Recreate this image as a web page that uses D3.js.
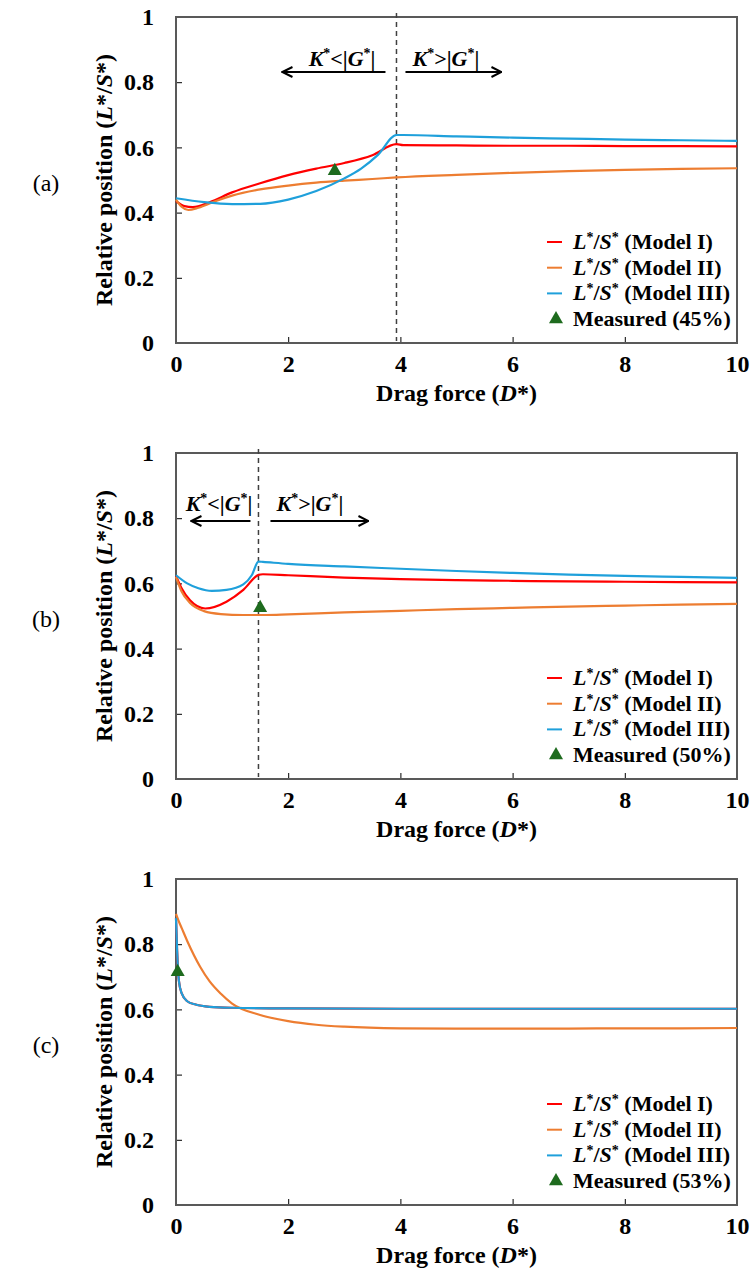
<!DOCTYPE html>
<html>
<head>
<meta charset="utf-8">
<script src="https://cdn.jsdelivr.net/npm/d3@7"></script>
<style>
  body { margin: 0; background: #fff; }
  text { font-family: "Liberation Serif", "Times New Roman", serif; }
</style>
</head>
<body>
<svg id="chart" width="753" height="1285"></svg>
<script>
// tick labels
const xTicks = [0, 2, 4, 6, 8, 10];
const yTicks = [0, 0.2, 0.4, 0.6, 0.8, 1];
const panelLabels = ["(a)", "(b)", "(c)"];
const measuredLabels = ["Measured (45%)", "Measured (50%)", "Measured (53%)"];
const modelNames = ["Model I", "Model II", "Model III"];

// panel (a)
const aRedD = [0, 0.15, 0.3, 0.6, 1, 1.5, 2, 2.5, 3, 3.5, 3.93, 4.05, 5, 6, 7, 8, 9, 10];
const aRedV = [0.435, 0.42, 0.417, 0.432, 0.462, 0.49, 0.515, 0.535, 0.552, 0.576, 0.61, 0.607, 0.606, 0.605, 0.605, 0.604, 0.604, 0.603];
const aOrangeD = [0, 0.1, 0.22, 0.4, 0.7, 1, 1.5, 2, 2.5, 3, 3.5, 3.93, 5, 6, 7, 8, 9, 10];
const aOrangeV = [0.44, 0.418, 0.408, 0.415, 0.435, 0.452, 0.471, 0.483, 0.492, 0.498, 0.503, 0.508, 0.516, 0.522, 0.527, 0.531, 0.534, 0.536];
const aBlueD = [0, 0.5, 1, 1.5, 2, 2.5, 3, 3.3, 3.6, 3.93, 4.05, 5, 6, 7, 8, 9, 10];
const aBlueV = [0.444, 0.432, 0.426, 0.427, 0.44, 0.466, 0.505, 0.535, 0.577, 0.638, 0.638, 0.634, 0.63, 0.627, 0.624, 0.622, 0.62];
const aMeasured = [2.83, 0.528];
const aSplit = 3.93;

// panel (b)
const bRedD = [0, 0.1, 0.25, 0.52, 0.9, 1.2, 1.47, 1.55, 2, 3, 4, 5, 6, 7, 8, 9, 10];
const bRedV = [0.623, 0.585, 0.548, 0.523, 0.544, 0.58, 0.626, 0.628, 0.625, 0.618, 0.613, 0.61, 0.608, 0.606, 0.605, 0.604, 0.603];
const bOrangeD = [0, 0.1, 0.25, 0.5, 0.8, 1.2, 1.6, 2, 3, 4, 5, 6, 7, 8, 9, 10];
const bOrangeV = [0.62, 0.575, 0.54, 0.515, 0.506, 0.503, 0.503, 0.505, 0.511, 0.516, 0.521, 0.525, 0.529, 0.532, 0.535, 0.537];
const bBlueD = [0, 0.2, 0.4, 0.64, 0.9, 1.2, 1.35, 1.47, 1.55, 2, 3, 4, 5, 6, 7, 8, 9, 10];
const bBlueV = [0.625, 0.6, 0.585, 0.577, 0.58, 0.597, 0.625, 0.667, 0.666, 0.66, 0.652, 0.645, 0.638, 0.632, 0.627, 0.623, 0.62, 0.617];
const bMeasured = [1.5, 0.525];
const bSplit = 1.47;

// panel (c)
const cBlueD = [0, 0.02, 0.05, 0.1, 0.2, 0.35, 0.6, 1, 2, 4, 6, 8, 10];
const cBlueV = [0.88, 0.78, 0.69, 0.65, 0.625, 0.615, 0.608, 0.605, 0.603, 0.602, 0.602, 0.602, 0.602];
const cRedD = cBlueD;
const cRedV = cBlueV;
const cOrangeD = [0, 0.05, 0.1, 0.2, 0.43, 0.6, 0.8, 1, 1.5, 2, 2.5, 3, 4, 5, 6, 7, 8, 9, 10];
const cOrangeV = [0.893, 0.87, 0.85, 0.81, 0.731, 0.686, 0.648, 0.618, 0.583, 0.564, 0.553, 0.547, 0.542, 0.541, 0.541, 0.541, 0.542, 0.542, 0.543];
const cMeasured = [0.03, 0.715];

const colors = { red: "#FF0000", orange: "#ED7D31", blue: "#1FA0DB", green: "#1E6B1E" };

const zip = (xs, ys) => xs.map((x, i) => [x, ys[i]]);

// annotation layout: [left text end, left arrow start, left arrow end, right arrow start, right arrow end, right text start]
const panels = [
  { top: 17, label: panelLabels[0], measured: aMeasured, measuredLabel: measuredLabels[0], split: aSplit,
    arrowY: 55, textY: 49, note: [-21, -11, -114, 9, 105, 16],
    series: [zip(aRedD, aRedV), zip(aOrangeD, aOrangeV), zip(aBlueD, aBlueV)] },
  { top: 453, label: panelLabels[1], measured: bMeasured, measuredLabel: measuredLabels[1], split: bSplit,
    arrowY: 68, textY: 58, note: [-6, -8, -67, 12, 110, 18],
    series: [zip(bRedD, bRedV), zip(bOrangeD, bOrangeV), zip(bBlueD, bBlueV)] },
  { top: 879, label: panelLabels[2], measured: cMeasured, measuredLabel: measuredLabels[2], split: null,
    series: [zip(cRedD, cRedV), zip(cOrangeD, cOrangeV), zip(cBlueD, cBlueV)] }
];
const seriesColors = [colors.red, colors.orange, colors.blue];

const left = 176, width = 561, height = 326;
const svg = d3.select("#chart");

// arrow head
svg.append("defs").append("marker")
  .attr("id", "head")
  .attr("viewBox", "0 0 12 12")
  .attr("refX", 11).attr("refY", 6)
  .attr("markerWidth", 12).attr("markerHeight", 12)
  .attr("markerUnits", "userSpaceOnUse")
  .attr("orient", "auto")
  .append("path")
  .attr("d", "M1,1 L11,6 L1,11")
  .attr("fill", "none").attr("stroke", "#000").attr("stroke-width", 2);

const x = d3.scaleLinear().domain([0, 10]).range([0, width]);
const y = d3.scaleLinear().domain([0, 1]).range([height, 0]);
const triangle = d3.symbol().type(d3.symbolTriangle).size(85);

// K*<|G*| style label
function kgLabel(sel, op) {
  sel.append("tspan").attr("font-style", "italic").text("K");
  sel.append("tspan").attr("font-size", 14).attr("dy", -8).text("*");
  sel.append("tspan").attr("dy", 8).text(op + "|");
  sel.append("tspan").attr("font-style", "italic").text("G");
  sel.append("tspan").attr("font-size", 14).attr("dy", -8).text("*");
  sel.append("tspan").attr("dy", 8).text("|");
}

panels.forEach(p => {
  const g = svg.append("g").attr("transform", `translate(${left},${p.top})`);

  // axes, ticks pointing inward
  g.append("g")
    .attr("transform", `translate(0,${height})`)
    .call(d3.axisBottom(x).tickValues(xTicks).tickSizeInner(-6).tickSizeOuter(0).tickPadding(12))
    .call(a => a.select(".domain").remove())
    .call(a => a.selectAll("text").attr("font-size", 24).attr("font-weight", "bold").attr("fill", "#000")
      .style("font-family", "Liberation Serif"));
  g.append("g")
    .call(d3.axisLeft(y).tickValues(yTicks).tickFormat(d3.format("")).tickSizeInner(-6).tickSizeOuter(0).tickPadding(22))
    .call(a => a.select(".domain").remove())
    .call(a => a.selectAll("text").attr("font-size", 24).attr("font-weight", "bold").attr("fill", "#000")
      .style("font-family", "Liberation Serif"));

  g.append("rect")
    .attr("width", width).attr("height", height)
    .attr("fill", "none").attr("stroke", "#595959").attr("stroke-width", 2);

  // split line and annotations
  if (p.split !== null) {
    const sx = x(p.split);
    const n = p.note;
    g.append("line")
      .attr("x1", sx).attr("x2", sx).attr("y1", -4).attr("y2", height - 2)
      .attr("stroke", "#404040").attr("stroke-width", 1.5).attr("stroke-dasharray", "5,4");
    g.append("line")
      .attr("x1", sx + n[1]).attr("x2", sx + n[2])
      .attr("y1", p.arrowY).attr("y2", p.arrowY)
      .attr("stroke", "#000").attr("stroke-width", 2).attr("marker-end", "url(#head)");
    g.append("line")
      .attr("x1", sx + n[3]).attr("x2", sx + n[4])
      .attr("y1", p.arrowY).attr("y2", p.arrowY)
      .attr("stroke", "#000").attr("stroke-width", 2).attr("marker-end", "url(#head)");
    g.append("text")
      .attr("x", sx + n[0]).attr("y", p.textY)
      .attr("text-anchor", "end").attr("font-size", 22).attr("font-weight", "bold")
      .call(kgLabel, "<");
    g.append("text")
      .attr("x", sx + n[5]).attr("y", p.textY)
      .attr("font-size", 22).attr("font-weight", "bold")
      .call(kgLabel, ">");
  }

  const line = d3.line()
    .x(d => x(d[0]))
    .y(d => y(d[1]))
    .curve(d3.curveMonotoneX);

  p.series.forEach((s, i) => {
    g.append("path")
      .datum(s)
      .attr("fill", "none")
      .attr("stroke", seriesColors[i])
      .attr("stroke-width", 2.2)
      .attr("d", line);
  });

  g.append("path")
    .attr("d", triangle)
    .attr("transform", `translate(${x(p.measured[0])},${y(p.measured[1])})`)
    .attr("fill", colors.green);

  // legend
  const lg = g.append("g").attr("transform", `translate(${width - 5},225)`);
  modelNames.forEach((m, i) => {
    const row = lg.append("g").attr("transform", `translate(0,${i * 25.7})`);
    row.append("line")
      .attr("x1", -185).attr("x2", -170).attr("y1", 0).attr("y2", 0)
      .attr("stroke", seriesColors[i]).attr("stroke-width", 2);
    const t = row.append("text")
      .attr("x", -159).attr("y", 7)
      .attr("font-size", 22).attr("font-weight", "bold");
    t.append("tspan").attr("font-style", "italic").text("L");
    t.append("tspan").attr("font-size", 14).attr("dy", -7).text("*");
    t.append("tspan").attr("dy", 7).text("/");
    t.append("tspan").attr("font-style", "italic").text("S");
    t.append("tspan").attr("font-size", 14).attr("dy", -7).text("*");
    t.append("tspan").attr("dy", 7).text(" (" + m + ")");
  });
  const mrow = lg.append("g").attr("transform", `translate(0,${3 * 25.7})`);
  mrow.append("path")
    .attr("d", triangle)
    .attr("transform", "translate(-176,0)")
    .attr("fill", colors.green);
  mrow.append("text")
    .attr("x", -159).attr("y", 7)
    .attr("font-size", 22).attr("font-weight", "bold")
    .text(p.measuredLabel);

  // axis titles
  const xt = g.append("text")
    .attr("x", width / 2).attr("y", height + 58)
    .attr("text-anchor", "middle").attr("font-size", 24).attr("font-weight", "bold");
  xt.append("tspan").text("Drag force (");
  xt.append("tspan").attr("font-style", "italic").text("D");
  xt.append("tspan").text("*)");

  const yt = g.append("text")
    .attr("transform", `translate(-64,${height / 2}) rotate(-90)`)
    .attr("text-anchor", "middle").attr("font-size", 24).attr("font-weight", "bold");
  yt.append("tspan").text("Relative position (");
  yt.append("tspan").attr("font-style", "italic").text("L");
  yt.append("tspan").text("*/");
  yt.append("tspan").attr("font-style", "italic").text("S");
  yt.append("tspan").text("*)");

  g.append("text")
    .attr("x", -130).attr("y", 166 + 8)
    .attr("text-anchor", "middle").attr("font-size", 24)
    .text(p.label);
});
</script>
</body>
</html>
